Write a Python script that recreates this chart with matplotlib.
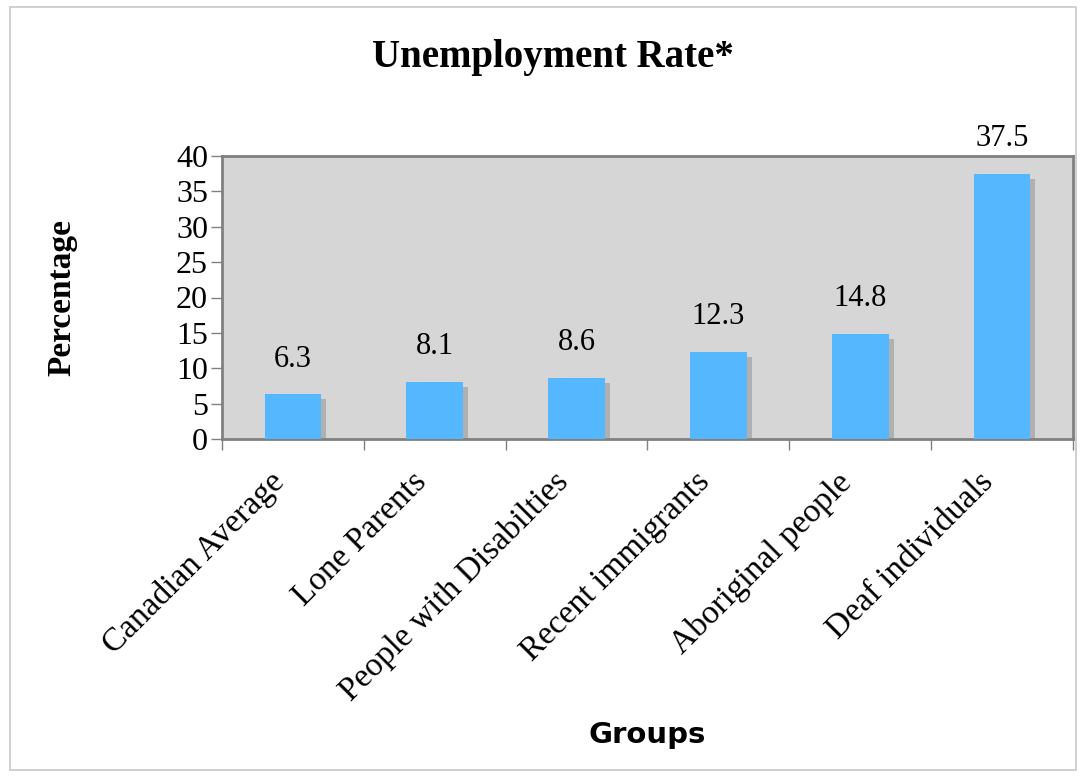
import matplotlib
matplotlib.use("Agg")
import matplotlib.pyplot as plt
from matplotlib.patches import Rectangle
from matplotlib.transforms import ScaledTranslation
import numpy as np

groups = ["Canadian Average", "Lone Parents", "People with Disabilties",
          "Recent immigrants", "Aboriginal people", "Deaf individuals"]
rates = [6.3, 8.1, 8.6, 12.3, 14.8, 37.5]
y_ticks = [0, 5, 10, 15, 20, 25, 30, 35, 40]

serif = ["Liberation Serif", "DejaVu Serif"]
bar_color = "#55b8ff"
shadow_color = "#b0b0b0"
plot_bg = "#d6d6d6"
axis_gray = "#808080"

fig = plt.figure(figsize=(10.82, 7.76), dpi=100)
fig.patches.append(Rectangle((10 / 1082, 6 / 776), 1066 / 1082, 763 / 776,
                             transform=fig.transFigure, fill=False,
                             edgecolor="#c8c8c8", linewidth=1.2))

ax = fig.add_axes([222 / 1082, 1 - 439 / 776, 851 / 1082, 283 / 776])
ax.set_facecolor(plot_bg)

x = np.arange(len(groups))
width = 0.4
# drop shadow slightly right and below each bar
ax.bar(x + 0.035, np.array(rates) - 0.7, width=width, color=shadow_color, zorder=2)
ax.bar(x, rates, width=width, color=bar_color, zorder=3)

for xi, v in zip(x, rates):
    ax.annotate(f"{v}", (xi, v), xytext=(0, 15), textcoords="offset points",
                ha="center", va="bottom", fontsize=22, family=serif)

ax.set_xlim(-0.5, len(groups) - 0.5)
ax.set_ylim(0, 40)
ax.set_yticks(y_ticks)
ax.set_yticklabels([str(t) for t in y_ticks], fontsize=23, family=serif)

# category boundaries carry the tick marks; labels sit under the bar centres
ax.set_xticks(np.arange(len(groups) + 1) - 0.5)
ax.set_xticklabels([])
ax.set_xticks(x, minor=True)
ax.set_xticklabels(groups, minor=True, rotation=45, ha="right",
                   rotation_mode="anchor", fontsize=24, family=serif)
ax.tick_params(axis="x", which="minor", length=0, pad=12)
ax.tick_params(axis="x", which="major", length=8, color=axis_gray, width=1)
ax.tick_params(axis="y", length=8, color=axis_gray, width=1, pad=2)

shift = ScaledTranslation(-0.24, -0.11, fig.dpi_scale_trans)
for lbl in ax.get_xticklabels(minor=True):
    lbl.set_transform(lbl.get_transform() + shift)

for s in ax.spines.values():
    s.set_color(axis_gray)
    s.set_linewidth(2)

fig.text(553 / 1082, 1 - 58 / 776, "Unemployment Rate*", ha="center", va="center",
         fontsize=28, fontweight="bold", family=serif)
fig.text(62 / 1082, 1 - 297 / 776, "Percentage", ha="center", va="center",
         rotation=90, fontsize=24, fontweight="bold", family=serif)
fig.text(647 / 1082, 1 - 735 / 776, "Groups", ha="center", va="center",
         fontsize=21, fontweight="bold", family="DejaVu Sans")

fig.savefig("out.png", dpi=100)
